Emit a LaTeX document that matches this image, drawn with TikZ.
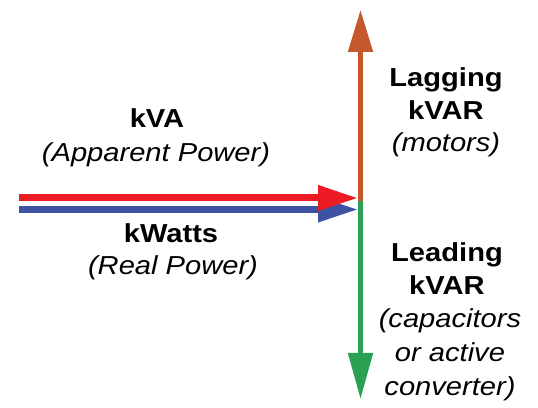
\documentclass[tikz,border=0pt]{standalone}
\usepackage{fontspec}
\setmainfont{Liberation Sans}[FakeStretch=1.12]
\usetikzlibrary{arrows.meta}
\definecolor{kvared}{RGB}{237,28,36}
\definecolor{kwblue}{RGB}{63,81,163}
\definecolor{lagorange}{RGB}{197,88,42}
\definecolor{leadgreen}{RGB}{42,160,82}
\tikzset{
  hd/.style={font=\fontsize{26}{33.5}\selectfont\bfseries, inner sep=0pt, anchor=base},
  it/.style={font=\fontsize{26}{33.5}\selectfont\itshape, inner sep=0pt, anchor=base},
  harrow/.style={line width=7pt, -{Triangle[length=40pt,width=24pt]}},
  varrow/.style={line width=5pt, -{Triangle[length=42pt,width=24pt]}}
}
\begin{document}
\begin{tikzpicture}[x=1pt,y=1pt]
\useasboundingbox (0,0) rectangle (538,407);
% coordinates (y measured from bottom)
\coordinate (rs) at (19,209);
\coordinate (re) at (358,209);
\coordinate (bs) at (19,197.5);
\coordinate (be) at (358,197.5);
\coordinate (O) at (360.5,206);
\coordinate (top) at (360.5,397);
\coordinate (bot) at (360.5,8);
% horizontal arrows
\draw[kwblue, harrow, line width=6.5pt] (bs) -- (be);
\draw[kvared, harrow] (rs) -- (re);
% vertical arrows
\draw[lagorange, varrow] (O) -- (top);
\draw[leadgreen, varrow, -{Triangle[length=46pt,width=24pt]}] (O) -- (bot);
% left labels
\node[hd] (kva) at (157,279) {kVA};
\node[it] (app) at (156,245) {(Apparent Power)};
\node[hd] (kw) at (171,164) {kWatts};
\node[it] (real) at (173,132) {(Real Power)};
% right labels
\node[hd] (lag1) at (446,320.3) {Lagging};
\node[hd] (lag2) at (446,287) {kVAR};
\node[it] (lag3) at (446,255.3) {(motors)};
\node[hd] (lead1) at (447,145.3) {Leading};
\node[hd] (lead2) at (447,112) {kVAR};
\node[it] (lead3) at (450,79) {(capacitors};
\node[it] (lead4) at (450,45.3) {or active};
\node[it] (lead5) at (450,12) {converter)};
\end{tikzpicture}
\end{document}
